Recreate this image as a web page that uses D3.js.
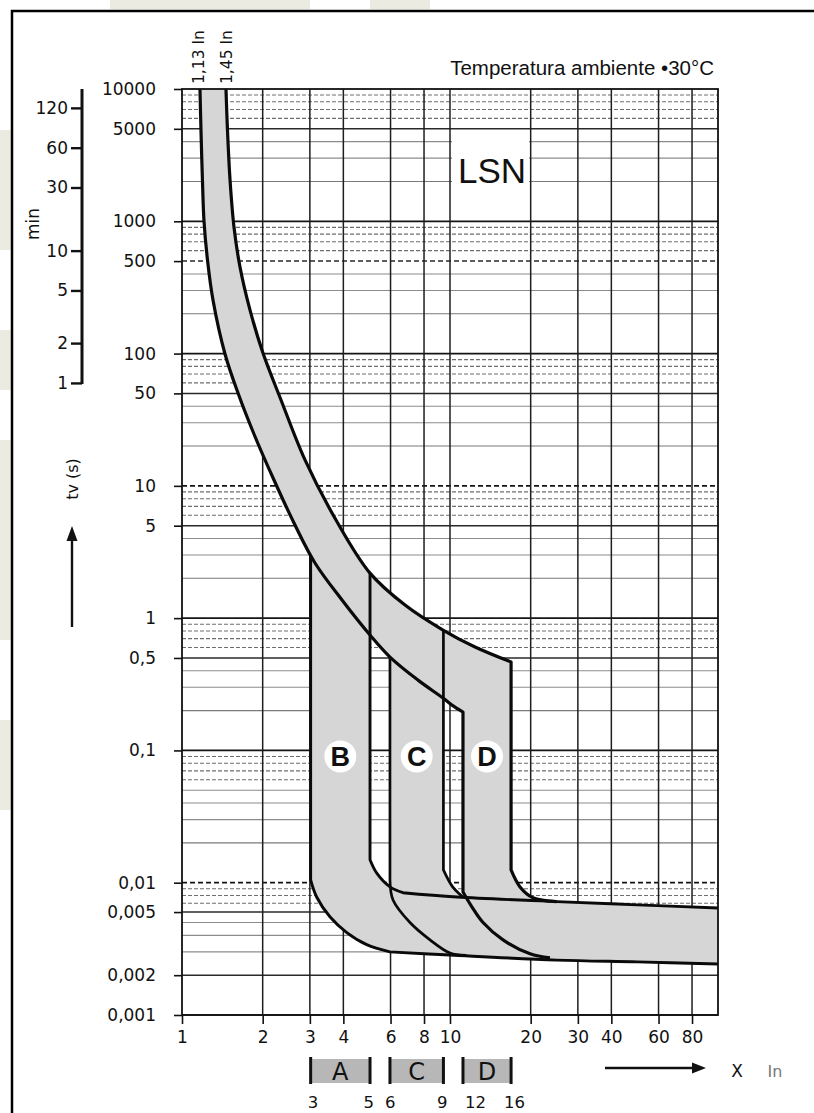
<!DOCTYPE html>
<html>
<head>
<meta charset="utf-8">
<script src="https://cdn.jsdelivr.net/npm/d3@7"></script>
<style>
body { margin: 0; background: #fff; }
svg { display: block; }
text { font-family: "DejaVu Sans", sans-serif; fill: #111; }
</style>
</head>
<body>
<svg id="chart" width="814" height="1113"></svg>
<script>
// Axis values
const xTicks = [1, 2, 3, 4, 6, 8, 10, 20, 30, 40, 60, 80]
const xGrid = [2, 3, 4, 6, 8, 10, 20, 30, 40, 60, 80]
const yTicks = [10000, 5000, 1000, 500, 100, 50, 10, 5, 1, 0.5, 0.1, 0.01, 0.006, 0.002, 0.001]
const yTickLabels = ['10000', '5000', '1000', '500', '100', '50', '10', '5', '1', '0,5', '0,1', '0,01', '0,005', '0,002', '0,001']
const dashedTicks = [500, 10, 0.01]
const minTicks = [120, 60, 30, 10, 5, 2, 1]

// Curves: [multiple of In, seconds]
const lowerThermal = [[1.167, 10000], [1.177, 4898], [1.192, 2051], [1.208, 1005], [1.245, 509], [1.305, 254],
  [1.447, 99.3], [1.618, 50.3], [1.849, 25.1], [2.204, 11.07], [2.618, 5.24], [3.135, 2.61], [3.954, 1.371],
  [5.029, 0.7455], [5.971, 0.508], [7.597, 0.34], [9.416, 0.249], [10.17, 0.22], [11.18, 0.195]]
const upperThermal = [[1.459, 10000], [1.478, 4898], [1.511, 2051], [1.563, 905], [1.646, 451], [1.794, 213],
  [2.005, 101], [2.341, 44.6], [2.877, 15.7], [3.755, 5.52], [5.029, 2.19], [6.795, 1.256], [9.416, 0.813],
  [12.4, 0.605], [16.9, 0.466]]

const lowerBottom = [[5.97, 0.0030], [10, 0.00284], [25, 0.0026], [50, 0.00252], [100, 0.00243]]
const upperBottom = [[6.68, 0.0084], [10.6, 0.0078], [25, 0.0072], [50, 0.0068], [100, 0.00644]]
const bLeftBottom = [[3.02, 0.0105], [3.18, 0.0078], [3.57, 0.0055], [4.12, 0.0042], [4.89, 0.0034], [5.97, 0.0030]]
const bRightBottom = [[5.03, 0.0149], [5.33, 0.0118], [5.97, 0.0093], [6.68, 0.0084]]
const cLeftBottom = [[5.97, 0.0105], [6.13, 0.0074], [7.09, 0.0050], [8.42, 0.0037], [10, 0.00294], [11.5, 0.00282]]
const cRightBottom = [[9.45, 0.0125], [10.23, 0.0093], [11.18, 0.0078]]
const dLeftBottom = [[11.18, 0.0085], [12.05, 0.0066], [13.28, 0.0050], [15.77, 0.0037], [19.9, 0.0029], [23.6, 0.0027]]
const dRightBottom = [[16.9, 0.0125], [18.25, 0.0093], [20.4, 0.0077], [25, 0.0072]]

// Magnetic bands (In) and the key under the axis
const bands = [
  { name: 'A', letter: 'B', from: 3.02, to: 5.03, left: '3', right: '5', ldx: -3, rdx: 4 },
  { name: 'C', letter: 'C', from: 5.97, to: 9.45, left: '6', right: '9', ldx: -5, rdx: 4 },
  { name: 'D', letter: 'D', from: 11.18, to: 16.9, left: '12', right: '16', ldx: 2, rdx: 14 }
]

const svg = d3.select('#chart')
const x = d3.scaleLog().domain([1, 100]).range([182, 718])
const y = d3.scaleLog().domain([0.001, 10000]).range([1015, 89])

const curveLine = d3.line().x(d => x(d[0])).y(d => y(d[1])).curve(d3.curveCatmullRom.alpha(0.5))
const straight = d3.line().x(d => x(d[0])).y(d => y(d[1]))

// Chain several line pieces into one path
function joinPath (parts) {
  return parts.map((p, i) => {
    const s = p[0](p[1])
    return i === 0 ? s : 'L' + s.slice(1)
  }).join('')
}

// Time on a curve at a given multiple, log-log interpolation
function tAt (curve, xv) {
  const pts = curve.slice().sort((a, b) => a[0] - b[0])
  for (let i = 1; i < pts.length; i++) {
    if (xv <= pts[i][0]) {
      const [x0, t0] = pts[i - 1]
      const [x1, t1] = pts[i]
      const k = (Math.log(xv) - Math.log(x0)) / (Math.log(x1) - Math.log(x0))
      return Math.exp(Math.log(t0) + k * (Math.log(t1) - Math.log(t0)))
    }
  }
  return pts[pts.length - 1][1]
}

// Watermark scraps outside frame
svg.append('g').attr('fill', '#ecebe1')
  .selectAll('rect')
  .data([[0, 130, 11, 120], [0, 330, 11, 60], [0, 440, 11, 200], [0, 720, 11, 90], [110, 0, 200, 9], [370, 0, 60, 9]])
  .enter().append('rect')
  .attr('x', d => d[0]).attr('y', d => d[1]).attr('width', d => d[2]).attr('height', d => d[3])

// Grid
const hGrid = []
for (let k = -3; k <= 3; k++) {
  for (let m = 1; m <= 9; m++) {
    const v = +(m * Math.pow(10, k)).toPrecision(3)
    hGrid.push({ v, m, tick: yTicks.includes(v), dash: dashedTicks.includes(v) })
  }
}
const grid = svg.append('g')
grid.selectAll('.h').data(hGrid).enter().append('line')
  .attr('x1', x(1)).attr('x2', x(100))
  .attr('y1', d => y(d.v)).attr('y2', d => y(d.v))
  .attr('stroke', d => d.m === 1 ? '#151515' : d.tick ? '#2a2a2a' : d.m === 2 ? '#7a7a7a' : d.m > 5 ? '#6e6e6e' : '#8c8c8c')
  .attr('stroke-width', d => d.m === 1 ? 1.7 : d.tick ? 1.5 : 1.1)
  .attr('stroke-dasharray', d => d.dash ? '5,3' : (d.m > 5 && !d.tick) ? '4,2' : null)
grid.selectAll('.v').data(xGrid).enter().append('line')
  .attr('x1', d => x(d)).attr('x2', d => x(d))
  .attr('y1', y(10000)).attr('y2', y(0.001))
  .attr('stroke', '#1e1e1e').attr('stroke-width', 1.5)

// LSN label box
svg.append('rect').attr('x', 452).attr('y', 134).attr('width', 77).attr('height', 64).attr('fill', '#fff')
svg.append('text').attr('x', 458).attr('y', 183)
  .style('font-family', '"Liberation Sans", Arial, sans-serif').style('font-size', '35px')
  .text('LSN')

// Gray zones
const gray = '#d6d6d6'
const fills = svg.append('g').attr('fill', gray)
const cornerL = lowerThermal[lowerThermal.length - 1]
const cornerU = upperThermal[upperThermal.length - 1]
const lbEnd = lowerBottom[lowerBottom.length - 1]
const ubEnd = upperBottom[upperBottom.length - 1]

fills.append('path').attr('d', joinPath([
  [curveLine, lowerThermal],
  [straight, [cornerL, dLeftBottom[0]]],
  [curveLine, dLeftBottom],
  [curveLine, lowerBottom.filter(d => d[0] >= 25)],
  [straight, [lbEnd, ubEnd]],
  [curveLine, upperBottom.filter(d => d[0] >= 25).reverse()],
  [curveLine, dRightBottom.slice().reverse()],
  [straight, [dRightBottom[0], cornerU]],
  [curveLine, upperThermal.slice().reverse()]
]) + 'Z')

const bTop = [bands[0].from, tAt(lowerThermal, bands[0].from)]
const bTopR = [bands[0].to, tAt(upperThermal, bands[0].to)]
fills.append('path').attr('d', joinPath([
  [straight, [bTop, bTopR, bRightBottom[0]]],
  [curveLine, bRightBottom],
  [curveLine, upperBottom],
  [straight, [ubEnd, lbEnd]],
  [curveLine, lowerBottom.slice().reverse()],
  [curveLine, bLeftBottom.slice().reverse()]
]) + 'Z')

const cTop = [bands[1].from, tAt(lowerThermal, bands[1].from)]
const cTopR = [bands[1].to, tAt(upperThermal, bands[1].to)]
fills.append('path').attr('d', joinPath([
  [straight, [cTop, cTopR, cRightBottom[0]]],
  [curveLine, cRightBottom],
  [straight, [cRightBottom[cRightBottom.length - 1], [bands[1].from, 0.006]]]
]) + 'Z')

// Curve strokes
const strokes = svg.append('g').attr('fill', 'none').attr('stroke', '#0a0a0a')
  .attr('stroke-linejoin', 'round')
const lineDefs = [
  { w: 3.2, parts: [[curveLine, lowerThermal], [straight, [cornerL, dLeftBottom[0]]], [curveLine, dLeftBottom]] },
  { w: 3.2, parts: [[curveLine, upperThermal], [straight, [cornerU, dRightBottom[0]]], [curveLine, dRightBottom]] },
  { w: 2.9, parts: [[straight, [bTop, bLeftBottom[0]]], [curveLine, bLeftBottom], [curveLine, lowerBottom]] },
  { w: 2.9, parts: [[straight, [bTopR, bRightBottom[0]]], [curveLine, bRightBottom], [curveLine, upperBottom]] },
  { w: 2.7, parts: [[straight, [cTop, cLeftBottom[0]]], [curveLine, cLeftBottom]] },
  { w: 2.7, parts: [[straight, [cTopR, cRightBottom[0]]], [curveLine, cRightBottom]] }
]
strokes.selectAll('path').data(lineDefs).enter().append('path')
  .attr('stroke-width', d => d.w)
  .attr('d', d => joinPath(d.parts))

// Band letters
const midT = 0.1
const letters = svg.append('g').selectAll('g').data(bands).enter().append('g')
  .attr('transform', d => `translate(${(x(d.from) + x(d.to)) / 2},${y(midT) + 6})`)
letters.append('circle').attr('r', 16).attr('fill', '#fff')
letters.append('text').attr('text-anchor', 'middle').attr('dy', '0.36em')
  .style('font-family', '"Liberation Sans", Arial, sans-serif').style('font-size', '27px').style('font-weight', 'bold')
  .text(d => d.letter)

// Plot frame
svg.append('rect').attr('x', x(1)).attr('y', y(10000))
  .attr('width', x(100) - x(1)).attr('height', y(0.001) - y(10000))
  .attr('fill', 'none').attr('stroke', '#111').attr('stroke-width', 1.8)

// Axes
const labelFont = g => g.selectAll('text').style('font-size', '17px').attr('fill', '#111')
  .style('font-family', '"DejaVu Sans", sans-serif')

const yAxis = svg.append('g').attr('transform', `translate(${x(1)},0)`)
  .call(d3.axisLeft(y).tickValues(yTicks).tickFormat((d, i) => yTickLabels[i]).tickSize(8).tickPadding(18))
yAxis.select('.domain').remove()
yAxis.selectAll('line').attr('stroke', '#111').attr('stroke-width', 1.6)
yAxis.call(labelFont)

const xAxis = svg.append('g').attr('transform', `translate(0,${y(0.001)})`)
  .call(d3.axisBottom(x).tickValues(xTicks).tickFormat(d3.format('d')).tickSize(9).tickPadding(7))
xAxis.select('.domain').remove()
xAxis.selectAll('line').attr('stroke', '#111').attr('stroke-width', 1.6)
xAxis.call(labelFont)

const minAxis = svg.append('g').attr('transform', 'translate(82,0)')
  .call(d3.axisLeft(y).tickValues(minTicks.map(m => m * 60)).tickFormat((d, i) => minTicks[i]).tickSize(11).tickPadding(3))
minAxis.select('.domain').remove()
minAxis.append('line').attr('x1', 0).attr('x2', 0).attr('y1', y(10000)).attr('y2', y(60) + 1)
  .attr('stroke', '#111').attr('stroke-width', 3)
minAxis.selectAll('.tick line').attr('stroke', '#111').attr('stroke-width', 2.4)
minAxis.call(labelFont)

// Axis titles
svg.append('text').attr('transform', 'translate(39,224) rotate(-90)').attr('text-anchor', 'middle')
  .style('font-size', '17px').text('min')
svg.append('text').attr('transform', 'translate(78,479) rotate(-90)').attr('text-anchor', 'middle')
  .style('font-size', '16px').text('tv (s)')
svg.append('line').attr('x1', 72).attr('x2', 72).attr('y1', 627).attr('y2', 538)
  .attr('stroke', '#111').attr('stroke-width', 2.4)
svg.append('path').attr('d', 'M66.5,541 L72,526 L77.5,541 Z').attr('fill', '#111')

svg.append('text').attr('transform', `translate(${x(1.13) + 8},84) rotate(-90)`)
  .style('font-size', '15.5px').text('1,13 In')
svg.append('text').attr('transform', `translate(${x(1.45) + 7},84) rotate(-90)`)
  .style('font-size', '15.5px').text('1,45 In')

svg.append('text').attr('x', 714).attr('y', 75).attr('text-anchor', 'end')
  .style('font-family', '"Liberation Sans", Arial, sans-serif').style('font-size', '20.5px')
  .text('Temperatura ambiente •30°C')

// Bottom band key
const key = svg.append('g').selectAll('g').data(bands).enter().append('g')
key.append('rect').attr('x', d => x(d.from)).attr('y', 1059)
  .attr('width', d => x(d.to) - x(d.from)).attr('height', 24).attr('fill', '#b7b7b7')
key.append('rect').attr('x', d => x(d.from) - 1.5).attr('y', 1057).attr('width', 3).attr('height', 27).attr('fill', '#111')
key.append('rect').attr('x', d => x(d.to) - 1.5).attr('y', 1057).attr('width', 3).attr('height', 27).attr('fill', '#111')
key.append('text').attr('x', d => (x(d.from) + x(d.to)) / 2).attr('y', 1080).attr('text-anchor', 'middle')
  .style('font-size', '24px').text(d => d.name)
key.append('text').attr('x', d => x(d.from) + d.ldx).attr('y', 1108).style('font-size', '16.5px').text(d => d.left)
key.append('text').attr('x', d => x(d.to) + d.rdx).attr('y', 1108).attr('text-anchor', 'end')
  .style('font-size', '16.5px').text(d => d.right)

svg.append('line').attr('x1', 605).attr('x2', 694).attr('y1', 1068).attr('y2', 1068)
  .attr('stroke', '#111').attr('stroke-width', 2.6)
svg.append('path').attr('d', 'M692,1062.5 L706,1068 L692,1073.5 Z').attr('fill', '#111')
svg.append('text').attr('x', 737).attr('y', 1077).attr('text-anchor', 'middle').style('font-size', '17px').text('X')
svg.append('text').attr('x', 775).attr('y', 1077).attr('text-anchor', 'middle').style('font-size', '16px')
  .style('fill', '#777').text('In')

// Outer frame
svg.append('path').attr('d', 'M12,1113 V11 H814').attr('fill', 'none').attr('stroke', '#000').attr('stroke-width', 2.5)
</script>
</body>
</html>
